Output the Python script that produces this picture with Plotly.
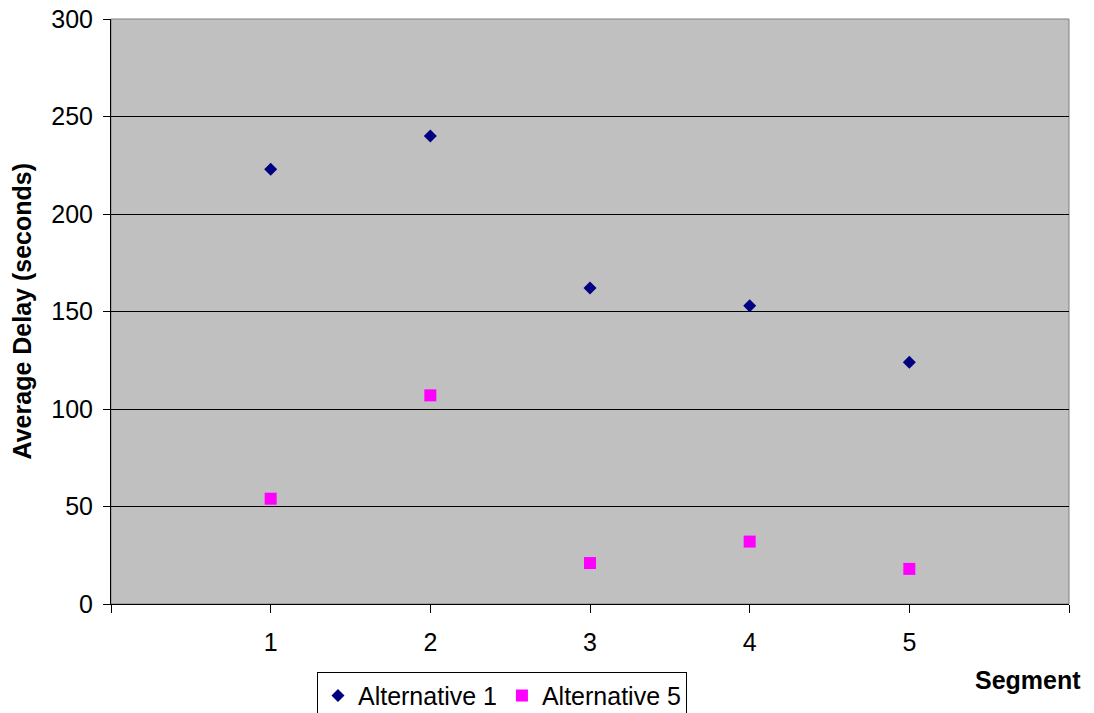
import plotly.graph_objects as go

# Average delay per road segment for two design alternatives
segments = [1, 2, 3, 4, 5]
alt1_delay = [223, 240, 162, 153, 124]
alt5_delay = [54, 107, 21, 32, 18]

x_tick_vals = [0, 1, 2, 3, 4, 5, 6]
x_tick_text = ["", "1", "2", "3", "4", "5", ""]
y_tick_vals = [0, 50, 100, 150, 200, 250, 300]

FONT = "Arial, Liberation Sans, sans-serif"
FS = 25

fig = go.Figure()
fig.add_trace(go.Scatter(
    x=segments, y=alt1_delay, mode="markers", name="Alternative 1",
    marker=dict(symbol="diamond", size=10, color="#000080"),
))
fig.add_trace(go.Scatter(
    x=segments, y=alt5_delay, mode="markers", name="Alternative 5",
    marker=dict(symbol="square", size=12, color="#FF00FF"),
))

# gray frame on the top and right of the plot area
fig.add_shape(type="rect", xref="paper", yref="paper", x0=0, y0=0, x1=1, y1=1,
              line=dict(color="#808080", width=1), layer="below")

fig.update_layout(
    width=1094, height=713,
    margin=dict(l=111, r=25, t=19, b=109, autoexpand=False),
    paper_bgcolor="white",
    plot_bgcolor="#C0C0C0",
    font=dict(family=FONT, size=FS, color="black"),
    showlegend=True,
    legend=dict(
        orientation="h", x=0.215, y=-0.116, xanchor="left", yanchor="top",
        bordercolor="black", borderwidth=1, bgcolor="white",
        font=dict(size=FS), itemwidth=30, tracegroupgap=0,
    ),
    xaxis=dict(
        range=[0, 6], tickmode="array", tickvals=x_tick_vals, ticktext=x_tick_text,
        showgrid=False, zeroline=False, showline=True, linecolor="black", linewidth=1,
        ticks="outside", ticklen=8, tickcolor="black", tickfont=dict(size=FS),
        ticklabelstandoff=8,
    ),
    yaxis=dict(
        range=[0, 300], tickmode="array", tickvals=y_tick_vals,
        showgrid=True, gridcolor="black", gridwidth=1,
        zeroline=False, showline=True, linecolor="black", linewidth=1,
        ticks="outside", ticklen=7, tickcolor="black", tickfont=dict(size=FS),
        ticklabelstandoff=5,
    ),
    annotations=[
        dict(text="<b>Average Delay (seconds)</b>", xref="paper", yref="paper",
             x=-0.093, y=0.5, xanchor="center", yanchor="middle", textangle=-90,
             showarrow=False, font=dict(size=FS)),
        dict(text="<b>Segment</b>", xref="paper", yref="paper",
             x=0.957, y=-0.13, xanchor="center", yanchor="middle",
             showarrow=False, font=dict(size=FS)),
    ],
)

fig.write_html("out.html")
